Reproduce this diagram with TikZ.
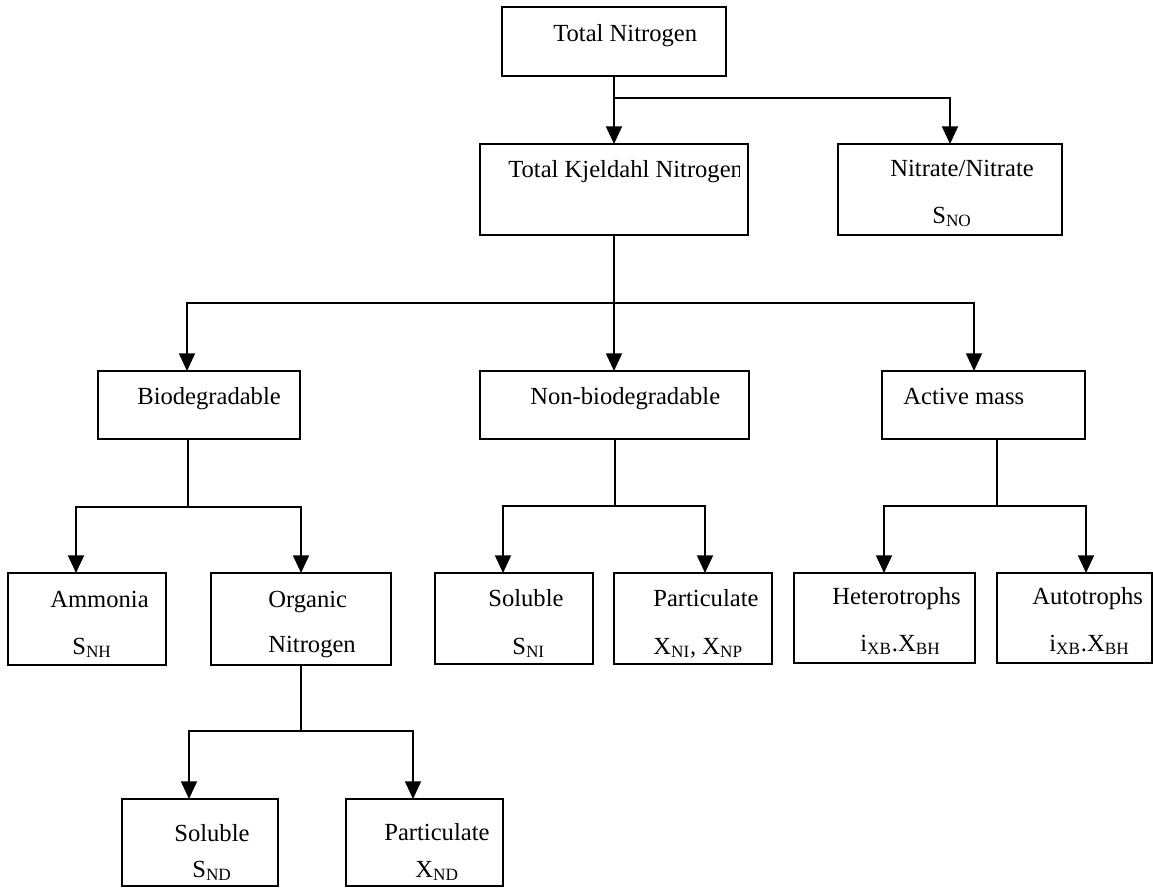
\documentclass[tikz,border=0pt]{standalone}
\usepackage{fontspec}
\setmainfont{Liberation Serif}
\usetikzlibrary{arrows.meta}

% box given by its corners (x1,y1) and (x2,y2)
\newcommand\boxnode[5]{%
  \node[box, minimum width={(#4-#2)*0.02cm}, minimum height={(#5-#3)*0.02cm}]
    (#1) at ({(#2+#4)/2},{(#3+#5)/2}) {};}

\tikzset{
  box/.style={draw, line width=1.2pt, rectangle, inner sep=0pt, outer sep=0pt},
  txt/.style={inner sep=0pt, anchor=base west, font=\fontsize{14}{16}\selectfont},
  link/.style={line width=1.2pt},
  arr/.style={line width=1.2pt, -{Triangle[width=9pt,length=10pt]}},
}

\begin{document}
\begin{tikzpicture}[x=0.02cm, y=-0.02cm]
\useasboundingbox (0,0) rectangle (1153,889);

% boxes
\boxnode{tn}{502}{7}{726}{76}
\boxnode{tkn}{480}{144}{748}{235}
\boxnode{nit}{838}{144}{1062}{235}
\boxnode{bio}{98}{371}{300}{439}
\boxnode{nb}{480}{371}{749}{439}
\boxnode{am}{882}{371}{1085}{439}
\boxnode{amm}{8}{573}{166}{665}
\boxnode{org}{211}{573}{391}{665}
\boxnode{sni}{435}{573}{593}{664}
\boxnode{pni}{614}{573}{772}{664}
\boxnode{het}{794}{573}{975}{663}
\boxnode{aut}{997}{573}{1152}{663}
\boxnode{snd}{122}{799}{278}{886}
\boxnode{pnd}{346}{799}{503}{886}

% texts
\node[txt] (tnT) at (553,41) {Total Nitrogen};
\begin{scope}
  \clip (tkn.north west) rectangle ([xshift=-0.18cm]tkn.south east);
  \node[txt] (tknT) at (508,177) {Total Kjeldahl Nitrogen};
\end{scope}
\node[txt] (nitT) at (890,176) {Nitrate/Nitrate};
\node[txt] (nitS) at (932,223) {S\textsubscript{NO}};
\node[txt] (bioT) at (137,404) {Biodegradable};
\node[txt] (nbT) at (530,404) {Non-biodegradable};
\node[txt] (amT) at (903,404) {Active mass};
\node[txt] (ammT) at (50,607) {Ammonia};
\node[txt] (ammS) at (72,654) {S\textsubscript{NH}};
\node[txt] (orgT) at (268,607) {Organic};
\node[txt] (orgU) at (268,652) {Nitrogen};
\node[txt] (sniT) at (488,606) {Soluble};
\node[txt] (sniS) at (512,654) {S\textsubscript{NI}};
\node[txt] (pniT) at (653,606) {Particulate};
\node[txt] (pniS) at (653,654) {X\textsubscript{NI}, X\textsubscript{NP}};
\node[txt] (hetT) at (832,604) {Heterotrophs};
\node[txt] (hetS) at (860,651) {i\textsubscript{XB}.X\textsubscript{BH}};
\node[txt] (autT) at (1032,604) {Autotrophs};
\node[txt] (autS) at (1049,651) {i\textsubscript{XB}.X\textsubscript{BH}};
\node[txt] (sndT) at (174,841) {Soluble};
\node[txt] (sndS) at (192,877) {S\textsubscript{ND}};
\node[txt] (pndT) at (384,840) {Particulate};
\node[txt] (pndS) at (415,877) {X\textsubscript{ND}};

% junctions
\coordinate (j1) at (614,98);   \coordinate (j1r) at (950,98);
\coordinate (j2) at (614,303);  \coordinate (j2l) at (187,303); \coordinate (j2r) at (974,303);
\coordinate (j3) at (188,507);  \coordinate (j3l) at (76,507);  \coordinate (j3r) at (301,507);
\coordinate (j4) at (301,731);  \coordinate (j4l) at (189,731); \coordinate (j4r) at (413,731);
\coordinate (j5) at (615,506);  \coordinate (j5l) at (503,506); \coordinate (j5r) at (705,506);
\coordinate (j6) at (997,506);  \coordinate (j6l) at (884,506); \coordinate (j6r) at (1086,506);

% Total Nitrogen
\draw[link] (tn.south) -- (j1);
\draw[arr] (j1) -- (tkn.north);
\draw[arr] (j1) -- (j1r) -- (nit.north -| j1r);

% Total Kjeldahl Nitrogen
\draw[link] (tkn.south) -- (j2);
\draw[arr] (j2) -- (j2l) -- (bio.north -| j2l);
\draw[arr] (j2) -- (nb.north -| j2);
\draw[arr] (j2) -- (j2r) -- (am.north -| j2r);

% Biodegradable
\draw[link] (bio.south -| j3) -- (j3);
\draw[arr] (j3) -- (j3l) -- (amm.north -| j3l);
\draw[arr] (j3) -- (j3r) -- (org.north -| j3r);

% Organic Nitrogen
\draw[link] (org.south -| j4) -- (j4);
\draw[arr] (j4) -- (j4l) -- (snd.north -| j4l);
\draw[arr] (j4) -- (j4r) -- (pnd.north -| j4r);

% Non-biodegradable
\draw[link] (nb.south -| j5) -- (j5);
\draw[arr] (j5) -- (j5l) -- (sni.north -| j5l);
\draw[arr] (j5) -- (j5r) -- (pni.north -| j5r);

% Active mass
\draw[link] (am.south -| j6) -- (j6);
\draw[arr] (j6) -- (j6l) -- (het.north -| j6l);
\draw[arr] (j6) -- (j6r) -- (aut.north -| j6r);
\end{tikzpicture}
\end{document}
